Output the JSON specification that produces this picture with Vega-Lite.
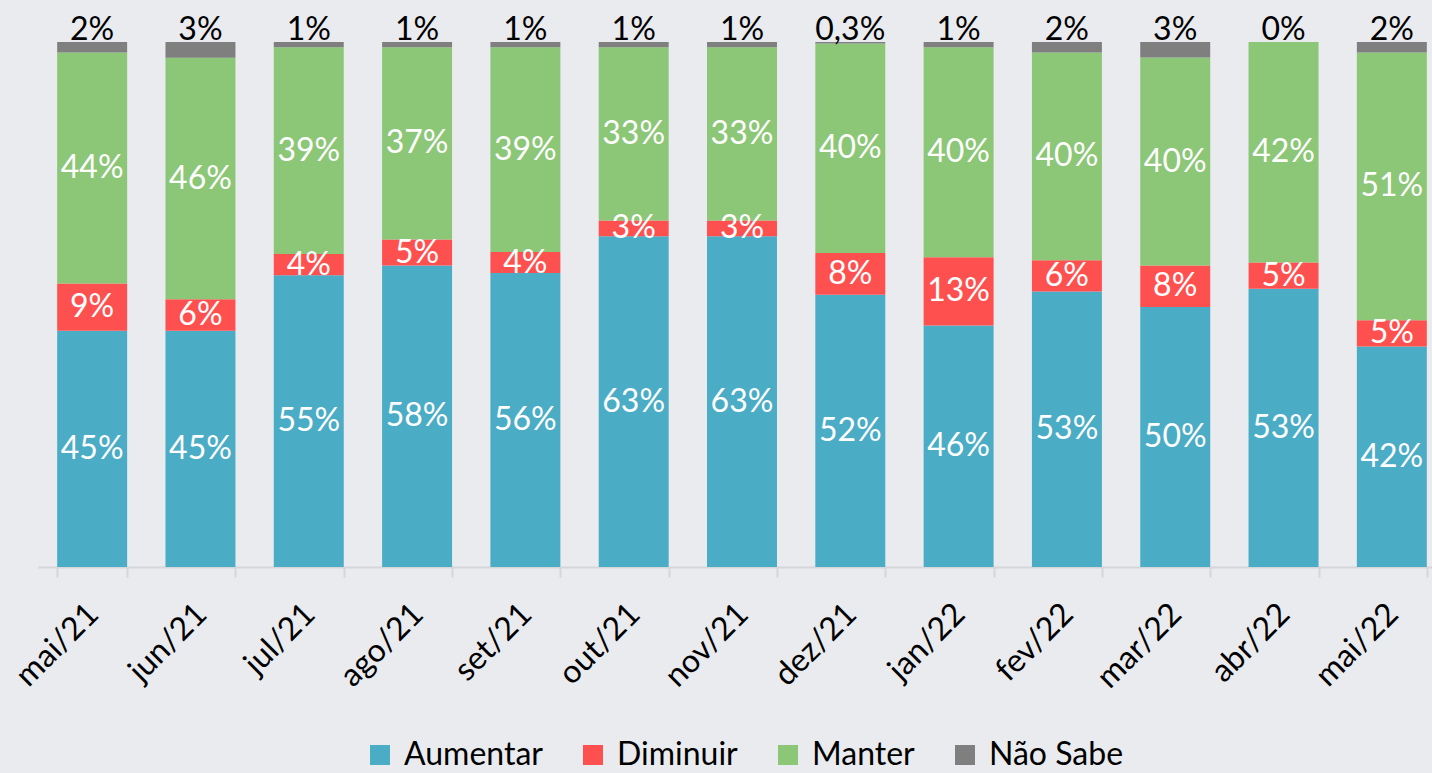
{
  "$schema": "https://vega.github.io/schema/vega-lite/v6.json",
  "width": 1394,
  "height": 525,
  "autosize": {"type": "none"},
  "padding": {"left": 38, "top": 42, "right": 0, "bottom": 206},
  "background": "#E9EBEE",
  "config": {"view": {"stroke": null}, "font": "Lato"},
  "data": {
    "values": [
      {"month": "mai/21", "category": "Aumentar", "value": 45, "label": "45%"},
      {"month": "mai/21", "category": "Diminuir", "value": 9, "label": "9%"},
      {"month": "mai/21", "category": "Manter", "value": 44, "label": "44%"},
      {"month": "mai/21", "category": "Não Sabe", "value": 2, "label": "2%"},
      {"month": "jun/21", "category": "Aumentar", "value": 45, "label": "45%"},
      {"month": "jun/21", "category": "Diminuir", "value": 6, "label": "6%"},
      {"month": "jun/21", "category": "Manter", "value": 46, "label": "46%"},
      {"month": "jun/21", "category": "Não Sabe", "value": 3, "label": "3%"},
      {"month": "jul/21", "category": "Aumentar", "value": 55, "label": "55%"},
      {"month": "jul/21", "category": "Diminuir", "value": 4, "label": "4%"},
      {"month": "jul/21", "category": "Manter", "value": 39, "label": "39%"},
      {"month": "jul/21", "category": "Não Sabe", "value": 1, "label": "1%"},
      {"month": "ago/21", "category": "Aumentar", "value": 58, "label": "58%"},
      {"month": "ago/21", "category": "Diminuir", "value": 5, "label": "5%"},
      {"month": "ago/21", "category": "Manter", "value": 37, "label": "37%"},
      {"month": "ago/21", "category": "Não Sabe", "value": 1, "label": "1%"},
      {"month": "set/21", "category": "Aumentar", "value": 56, "label": "56%"},
      {"month": "set/21", "category": "Diminuir", "value": 4, "label": "4%"},
      {"month": "set/21", "category": "Manter", "value": 39, "label": "39%"},
      {"month": "set/21", "category": "Não Sabe", "value": 1, "label": "1%"},
      {"month": "out/21", "category": "Aumentar", "value": 63, "label": "63%"},
      {"month": "out/21", "category": "Diminuir", "value": 3, "label": "3%"},
      {"month": "out/21", "category": "Manter", "value": 33, "label": "33%"},
      {"month": "out/21", "category": "Não Sabe", "value": 1, "label": "1%"},
      {"month": "nov/21", "category": "Aumentar", "value": 63, "label": "63%"},
      {"month": "nov/21", "category": "Diminuir", "value": 3, "label": "3%"},
      {"month": "nov/21", "category": "Manter", "value": 33, "label": "33%"},
      {"month": "nov/21", "category": "Não Sabe", "value": 1, "label": "1%"},
      {"month": "dez/21", "category": "Aumentar", "value": 52, "label": "52%"},
      {"month": "dez/21", "category": "Diminuir", "value": 8, "label": "8%"},
      {"month": "dez/21", "category": "Manter", "value": 40, "label": "40%"},
      {"month": "dez/21", "category": "Não Sabe", "value": 0.3, "label": "0,3%"},
      {"month": "jan/22", "category": "Aumentar", "value": 46, "label": "46%"},
      {"month": "jan/22", "category": "Diminuir", "value": 13, "label": "13%"},
      {"month": "jan/22", "category": "Manter", "value": 40, "label": "40%"},
      {"month": "jan/22", "category": "Não Sabe", "value": 1, "label": "1%"},
      {"month": "fev/22", "category": "Aumentar", "value": 53, "label": "53%"},
      {"month": "fev/22", "category": "Diminuir", "value": 6, "label": "6%"},
      {"month": "fev/22", "category": "Manter", "value": 40, "label": "40%"},
      {"month": "fev/22", "category": "Não Sabe", "value": 2, "label": "2%"},
      {"month": "mar/22", "category": "Aumentar", "value": 50, "label": "50%"},
      {"month": "mar/22", "category": "Diminuir", "value": 8, "label": "8%"},
      {"month": "mar/22", "category": "Manter", "value": 40, "label": "40%"},
      {"month": "mar/22", "category": "Não Sabe", "value": 3, "label": "3%"},
      {"month": "abr/22", "category": "Aumentar", "value": 53, "label": "53%"},
      {"month": "abr/22", "category": "Diminuir", "value": 5, "label": "5%"},
      {"month": "abr/22", "category": "Manter", "value": 42, "label": "42%"},
      {"month": "abr/22", "category": "Não Sabe", "value": 0, "label": "0%"},
      {"month": "mai/22", "category": "Aumentar", "value": 42, "label": "42%"},
      {"month": "mai/22", "category": "Diminuir", "value": 5, "label": "5%"},
      {"month": "mai/22", "category": "Manter", "value": 51, "label": "51%"},
      {"month": "mai/22", "category": "Não Sabe", "value": 2, "label": "2%"}
    ]
  },
  "transform": [
    {"stack": "value", "groupby": ["month"], "sort": [{"field": "category", "order": "ascending"}], "offset": "normalize", "as": ["v0", "v1"]},
    {"calculate": "(datum.v0 + datum.v1) / 2", "as": "vmid"}
  ],
  "encoding": {
    "x": {
      "field": "month",
      "type": "ordinal",
      "sort": ["mai/21", "jun/21", "jul/21", "ago/21", "set/21", "out/21", "nov/21", "dez/21", "jan/22", "fev/22", "mar/22", "abr/22", "mai/22"],
      "scale": {"range": [0, 1408], "paddingInner": 0.354, "paddingOuter": 0.177},
      "axis": {
        "title": null,
        "labelAngle": -45,
        "labelFontSize": 32,
        "labelColor": "#000000",
        "labelPadding": 21,
        "labelOffset": -10,
        "tickBand": "extent",
        "ticks": true,
        "tickSize": 10,
        "tickWidth": 2,
        "tickColor": "#D4D6D9",
        "domainColor": "#D4D6D9",
        "domainWidth": 2,
        "grid": false
      }
    }
  },
  "layer": [
    {
      "mark": {"type": "bar"},
      "encoding": {
        "y": {"field": "v0", "type": "quantitative", "scale": {"domain": [0, 1]}, "axis": null},
        "y2": {"field": "v1"},
        "color": {
          "field": "category",
          "type": "nominal",
          "scale": {"domain": ["Aumentar", "Diminuir", "Manter", "Não Sabe"], "range": ["#4BACC6", "#FF5050", "#8CC677", "#7F7F7F"]},
          "legend": {
            "title": null,
            "orient": "none",
            "legendX": 326,
            "legendY": 697,
            "direction": "horizontal",
            "symbolType": "square",
            "symbolSize": 400,
            "symbolStrokeWidth": 0,
            "labelFontSize": 32,
            "labelColor": "#000000",
            "labelOffset": 8,
            "columnPadding": 34,
            "labelLimit": 300
          }
        }
      }
    },
    {
      "transform": [{"filter": "datum.category != 'Não Sabe'"}],
      "mark": {"type": "text", "color": "#FFFFFF", "fontSize": 32, "baseline": "middle"},
      "encoding": {
        "y": {"field": "vmid", "type": "quantitative"},
        "text": {"field": "label"}
      }
    },
    {
      "transform": [{"filter": "datum.category == 'Não Sabe'"}],
      "mark": {"type": "text", "color": "#000000", "fontSize": 32, "baseline": "alphabetic", "dy": -2},
      "encoding": {
        "y": {"field": "v1", "type": "quantitative"},
        "text": {"field": "label"}
      }
    }
  ]
}
